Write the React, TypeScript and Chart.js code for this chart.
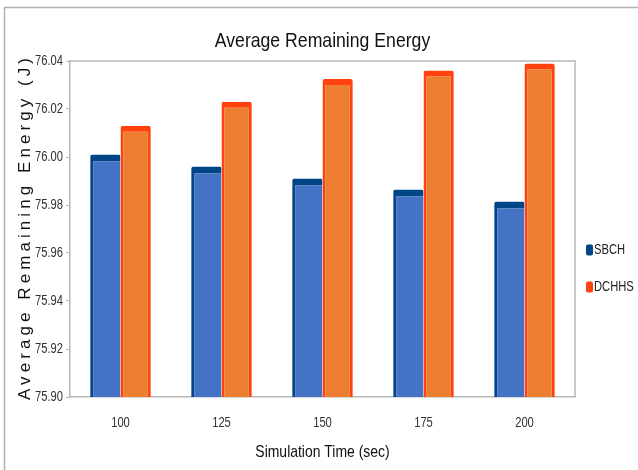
import React, { useEffect, useRef } from 'react';
import { Chart, registerables } from 'chart.js';

Chart.register(...registerables);

const categories = ['100', '125', '150', '175', '200'];
const sbchValues = [76.001, 75.996, 75.991, 75.9865, 75.9815];
const dchhsValues = [76.013, 76.023, 76.0325, 76.036, 76.039];
const seriesNames = ['SBCH', 'DCHHS'];
const yTitle = 'Average Remaining Energy (J)';
const xTitle = 'Simulation Time (sec)';
const chartTitle = 'Average Remaining Energy';

const REG = "'Liberation Sans', Arial, sans-serif";

function condText(
  ctx: CanvasRenderingContext2D,
  text: string,
  x: number,
  y: number,
  size: number,
  color: string,
  align: CanvasTextAlign,
  sx: number
) {
  ctx.save();
  (ctx as any).letterSpacing = '0px';
  ctx.font = `${size}px ${REG}`;
  ctx.fillStyle = color;
  ctx.textBaseline = 'middle';
  ctx.textAlign = align;
  ctx.translate(x, y);
  ctx.scale(sx, 1);
  ctx.fillText(text, 0, 0);
  ctx.restore();
}

const framePlugin = {
  id: 'frame',
  beforeDraw(chart: any) {
    const ctx = chart.ctx;
    ctx.save();
    ctx.fillStyle = '#ffffff';
    ctx.fillRect(0, 0, chart.width, chart.height);
    ctx.strokeStyle = '#b0b0b0';
    ctx.lineWidth = 1.5;
    ctx.beginPath();
    ctx.moveTo(4.5, chart.height);
    ctx.lineTo(4.5, 7.5);
    ctx.lineTo(chart.width, 7.5);
    ctx.stroke();
    ctx.restore();
  },
  afterDraw(chart: any) {
    const ctx = chart.ctx as CanvasRenderingContext2D;
    const a = chart.chartArea;
    ctx.save();
    ctx.strokeStyle = '#b8b8b8';
    ctx.lineWidth = 1.5;
    ctx.beginPath();
    ctx.moveTo(a.left, a.top);
    ctx.lineTo(a.right, a.top);
    ctx.lineTo(a.right, a.bottom);
    ctx.stroke();
    ctx.restore();

    // title
    condText(ctx, chartTitle, (a.left + a.right) / 2, 41, 21, '#111', 'center', 0.84);

    // y tick labels
    const ys = chart.scales.y;
    ys.ticks.forEach((t: any, i: number) => {
      const py = ys.getPixelForTick(i);
      condText(ctx, Number(t.value).toFixed(2), a.left - 7, py, 14, '#333', 'right', 0.8);
    });

    // x tick labels
    const xs = chart.scales.x;
    categories.forEach((c, i) => {
      condText(ctx, c, xs.getPixelForTick(i), 423, 14, '#333', 'center', 0.8);
    });

    // x title
    condText(ctx, xTitle, (a.left + a.right) / 2, 452, 17, '#111', 'center', 0.82);

    // y axis title with letter spacing
    ctx.save();
    ctx.font = `17px ${REG}`;
    ctx.fillStyle = '#111';
    const targetLen = 342;
    (ctx as any).letterSpacing = '0px';
    const w = ctx.measureText(yTitle).width;
    const sp = Math.max(0, (targetLen - w) / (yTitle.length - 1));
    (ctx as any).letterSpacing = `${sp}px`;
    ctx.translate(25, 229);
    ctx.rotate(-Math.PI / 2);
    ctx.textAlign = 'center';
    ctx.textBaseline = 'middle';
    ctx.fillText(yTitle, sp / 2, 0);
    ctx.restore();

    // legend
    const colors = ['#004586', '#ff420e'];
    const ly = [250, 287];
    seriesNames.forEach((n, i) => {
      ctx.save();
      ctx.fillStyle = colors[i];
      ctx.beginPath();
      (ctx as any).roundRect(586, ly[i] - 5.5, 7, 11, 2);
      ctx.fill();
      ctx.restore();
      condText(ctx, n, 594, ly[i], 14, '#222', 'left', 0.8);
    });
  },
};

export default function App() {
  const ref = useRef<HTMLCanvasElement>(null);
  useEffect(() => {
    document.body.style.margin = '0';
    const chart = new Chart(ref.current!, {
      type: 'bar',
      data: {
        labels: categories,
        datasets: [
          {
            label: seriesNames[0],
            data: sbchValues,
            backgroundColor: '#4472c4',
            borderColor: '#004586',
            borderWidth: { top: 7, left: 3, right: 0, bottom: 2 } as any,
            borderRadius: { topLeft: 2, topRight: 2 } as any,
            borderSkipped: false,
            categoryPercentage: 0.6,
            barPercentage: 1.0,
          },
          {
            label: seriesNames[1],
            data: dchhsValues,
            backgroundColor: '#ed7d31',
            borderColor: '#ff420e',
            borderWidth: { top: 6, left: 3, right: 3, bottom: 2 } as any,
            borderRadius: { topLeft: 2, topRight: 2 } as any,
            borderSkipped: false,
            categoryPercentage: 0.6,
            barPercentage: 1.0,
          },
        ],
      },
      options: {
        responsive: false,
        animation: false,
        layout: { padding: { left: 0, right: 63, top: 61, bottom: 0 } },
        plugins: {
          legend: { display: false },
          tooltip: { enabled: false },
          title: { display: false },
        },
        scales: {
          x: {
            grid: { display: false },
            border: { display: true, color: '#b8b8b8', width: 1.5 },
            ticks: { color: 'rgba(0,0,0,0)', font: { size: 14 } },
            afterFit(s: any) {
              s.height = 73;
            },
          },
          y: {
            min: 75.9,
            max: 76.04,
            ticks: {
              stepSize: 0.02,
              color: 'rgba(0,0,0,0)',
              font: { size: 14 },
              callback: (v: any) => Number(v).toFixed(2),
            },
            grid: { drawOnChartArea: false, drawTicks: true, tickLength: 4, color: '#b8b8b8' },
            border: { display: true, color: '#b8b8b8', width: 1.5 },
            afterFit(s: any) {
              s.width = 70;
            },
          },
        },
      },
      plugins: [framePlugin],
    });
    return () => chart.destroy();
  }, []);
  return (
    <div style={{ width: 638, height: 470 }}>
      <canvas ref={ref} width={638} height={470} />
    </div>
  );
}
